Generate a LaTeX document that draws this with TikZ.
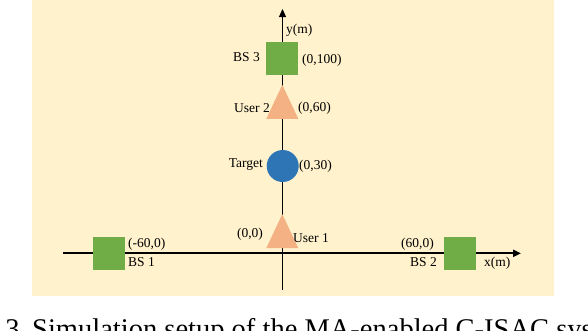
\documentclass[tikz,border=0pt]{standalone}
\usepackage{fontspec}
\setmainfont{Liberation Serif}
\usetikzlibrary{shapes.geometric,arrows.meta}
\definecolor{bgc}{HTML}{FFF2CC}
\definecolor{bsgreen}{HTML}{70AD47}
\definecolor{usrorange}{HTML}{F4B183}
\definecolor{tgtblue}{HTML}{2E75B6}
\tikzset{
  bs/.style={rectangle,fill=bsgreen,minimum width=32,minimum height=33,inner sep=0},
  usr/.style={isosceles triangle,isosceles triangle stretches,shape border rotate=90,fill=usrorange,minimum width=32,minimum height=34,inner sep=0},
  tgt/.style={circle,fill=tgtblue,minimum size=32,inner sep=0},
  lbl/.style={inner sep=0,font=\fontsize{13.5}{15}\selectfont},
  axis/.style={-{Triangle[length=8,width=7]},black},
}
\begin{document}
\begin{tikzpicture}[x=1pt,y=-1pt]
\useasboundingbox (0,0) rectangle (588,330);
\clip (0,0) rectangle (588,330);
\fill[bgc] (32,0) rectangle (554,296);
% axes
\coordinate (xl) at (63,253.3);
\coordinate (xr) at (521,253.3);
\coordinate (yb) at (282.5,290);
\coordinate (yt) at (282.5,9);
\draw[axis,line width=1.9] (xl) -- (xr);
\draw[axis,line width=1.1] (yb) -- (yt);
% shapes
\node[bs] (bs3) at (281.7,58.7) {};
\node[bs] (bs1) at (109.2,253.3) {};
\node[bs] (bs2) at (460,253.3) {};
\node[usr] (u2) at (282.3,108.7) {};
\node[usr] (u1) at (282.3,238) {};
\node[tgt] (tg) at (282.7,166) {};
% labels
\node[lbl,anchor=west] (ylab) at (286,30) {y(m)};
\node[lbl,anchor=west] (xlab) at (484,263) {x(m)};
\node[lbl,anchor=east] (bs3l) at (260,57) {BS 3};
\node[lbl,anchor=west] (bs3c) at (302,60) {(0,100)};
\node[lbl,anchor=east] (u2l) at (270,108) {User 2};
\node[lbl,anchor=west] (u2c) at (298,108) {(0,60)};
\node[lbl,anchor=east] (tgl) at (263,165) {Target};
\node[lbl,anchor=west] (tgc) at (299,166) {(0,30)};
\node[lbl] (u1c) at (250,234) {(0,0)};
\node[lbl,anchor=west] (u1l) at (293,238) {User 1};
\node[lbl,anchor=west] (bs1c) at (128,244) {(-60,0)};
\node[lbl,anchor=west] (bs1l) at (128,262) {BS 1};
\node[lbl,anchor=east] (bs2c) at (434,244) {(60,0)};
\node[lbl,anchor=east] (bs2l) at (437,262) {BS 2};
% caption (cut off)
\node[inner sep=0,anchor=base east,font=\fontsize{28.5}{32}\selectfont] (capn) at (27,338) {3.};
\node[inner sep=0,anchor=base west,font=\fontsize{28.5}{32}\selectfont] (cap) at (32,338) {Simulation setup of the MA-enabled C-ISAC system.};
\end{tikzpicture}
\end{document}
